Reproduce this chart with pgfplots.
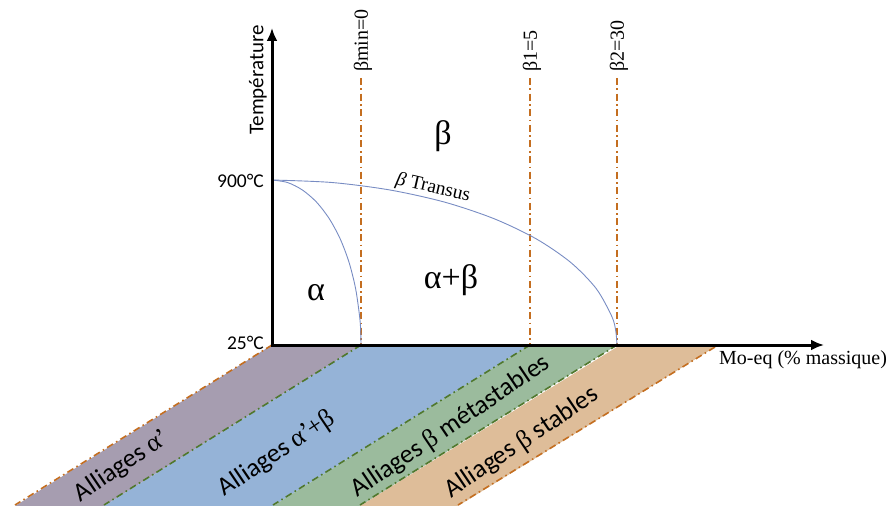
\documentclass[border=0pt]{standalone}
\usepackage{fontspec}
\setmainfont{Liberation Serif}
\newfontfamily\cali{Carlito}
\usepackage{pgfplots}
\pgfplotsset{compat=1.18}
\usetikzlibrary{arrows.meta}
\definecolor{cpurp}{RGB}{166,157,176}
\definecolor{cblue}{RGB}{149,179,215}
\definecolor{cgreen}{RGB}{155,187,157}
\definecolor{cpeach}{RGB}{222,189,153}
\definecolor{corange}{RGB}{196,110,32}
\definecolor{cdgreen}{RGB}{80,120,45}
\definecolor{ccurve}{RGB}{120,140,195}
\tikzset{ddot/.style={dash pattern=on 7bp off 3.5bp on 1.6bp off 3.5bp}}
\begin{document}
\begin{tikzpicture}
\begin{axis}[name=ax, scale only axis, width=894bp, height=506bp,
  xmin=0, xmax=894, ymin=0, ymax=506, y dir=reverse, hide axis, clip=false]
% bands
\addplot[fill=cpurp, draw=none] coordinates {(272,345) (361,345) (104,506) (15,506)} -- cycle;
\addplot[fill=cblue, draw=none] coordinates {(361,345) (530,345) (273,506) (104,506)} -- cycle;
\addplot[fill=cgreen, draw=none] coordinates {(530,345) (617,345) (360,506) (273,506)} -- cycle;
\addplot[fill=cpeach, draw=none] coordinates {(617,347) (715,347) (458,506) (360,506)} -- cycle;
% band boundaries
\addplot[corange, line width=1.6bp, ddot] coordinates {(272,345) (15,505)};
\addplot[cdgreen, line width=1.6bp, ddot] coordinates {(361,345) (104,505)};
\addplot[cdgreen, line width=1.6bp, ddot] coordinates {(530,345) (273,505)};
\addplot[cdgreen, line width=1.6bp, ddot] coordinates {(617,345) (360,505)};
\addplot[corange, line width=1.6bp, ddot] coordinates {(715,347) (458,505)};
% vertical composition lines
\addplot[corange, line width=2bp, ddot] coordinates {(361,78) (361,345)};
\addplot[corange, line width=2bp, ddot] coordinates {(530,78) (530,345)};
\addplot[corange, line width=2bp, ddot] coordinates {(617,78) (617,345)};
% beta transus
\addplot[ccurve, line width=0.9bp, smooth] coordinates {
(272,180) (331.9,182.5) (390.0,190.0) (444.5,202.1) (493.8,218.6) (536.3,238.9)
(570.8,262.5) (596.2,288.6) (611.8,316.4) (615.7,330.6) (617,345)};
% alpha / alpha+beta boundary
\addplot[ccurve, line width=0.9bp, smooth] coordinates {
(272,180) (287.5,182.5) (302.4,190.0) (316.5,202.1) (329.2,218.6) (340.2,238.9)
(349.1,262.5) (355.6,288.6) (359.6,316.4) (360.7,330.6) (361,345)};
% axes
\addplot[black, line width=3bp, -{Latex[length=13bp,width=11bp]}] coordinates {(272,346.5) (272,28)};
\addplot[black, line width=3bp, -{Latex[length=13bp,width=11bp]}] coordinates {(270.5,345) (824,345)};
% texts
\node[rotate=90, font=\cali\fontsize{21bp}{25bp}\selectfont] at (axis cs:258,80) {Température};
\node[anchor=east, font=\cali\fontsize{19.5bp}{23bp}\selectfont, inner sep=0pt] at (axis cs:264,181) {900°C};
\node[anchor=east, font=\cali\fontsize{19.5bp}{23bp}\selectfont, inner sep=0pt] at (axis cs:264,343) {25°C};
\node[anchor=west, font=\fontsize{20bp}{24bp}\selectfont, inner sep=0pt] at (axis cs:719,360) {Mo-eq (\% massique)};
\node[rotate=90, anchor=west, font=\fontsize{20bp}{24bp}\selectfont, inner sep=0pt] at (axis cs:363,72) {βmin=0};
\node[rotate=90, anchor=west, font=\fontsize{20bp}{24bp}\selectfont, inner sep=0pt] at (axis cs:532,72) {β1=5};
\node[rotate=90, anchor=west, font=\fontsize{20bp}{24bp}\selectfont, inner sep=0pt] at (axis cs:619,72) {β2=30};
\node[font=\fontsize{34bp}{38bp}\selectfont] at (axis cs:443,136) {β};
\node[font=\fontsize{34bp}{38bp}\selectfont] at (axis cs:316,293) {α};
\node[font=\fontsize{34bp}{38bp}\selectfont] at (axis cs:451,280) {α+β};
\node[rotate=-13, font=\fontsize{19.5bp}{23bp}\selectfont] at (axis cs:433,188) {\textit{β} Transus};
\node[rotate=34, font=\cali\fontsize{26bp}{30bp}\selectfont] at (axis cs:122,466) {Alliages {\rmfamily α’}};
\node[rotate=34, font=\cali\fontsize{26bp}{30bp}\selectfont] at (axis cs:277,454) {Alliages {\rmfamily α’\kern-2bp+β}};
\node[rotate=34, font=\cali\fontsize{26bp}{30bp}\selectfont] at (axis cs:451,427) {Alliages {\rmfamily β} métastables};
\node[rotate=34, font=\cali\fontsize{26bp}{30bp}\selectfont] at (axis cs:522,443) {Alliages {\rmfamily β} stables};
\end{axis}
\pgfresetboundingbox
\path[use as bounding box] (ax.south west) rectangle (ax.north east);
\end{tikzpicture}
\end{document}
